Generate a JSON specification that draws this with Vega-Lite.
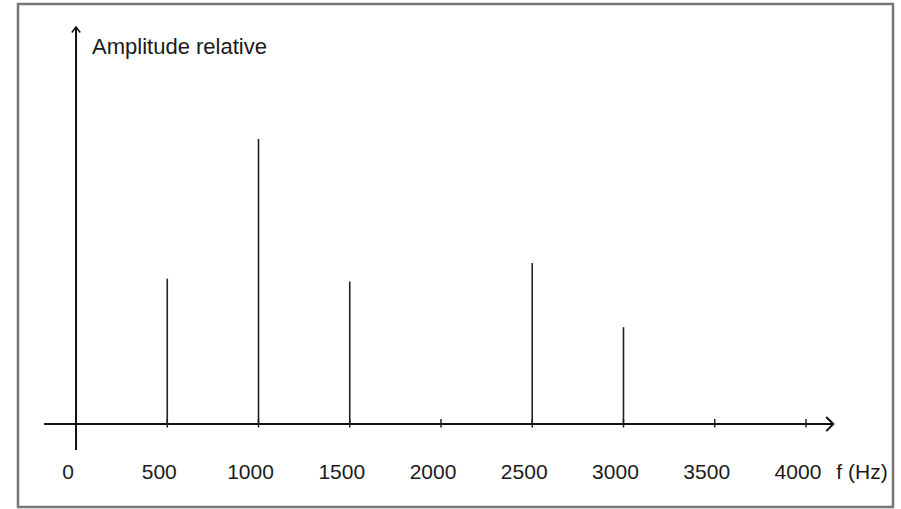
{
  "$schema": "https://vega.github.io/schema/vega-lite/v6.json",
  "width": 901,
  "height": 509,
  "autosize": {"type": "fit", "contains": "padding"},
  "padding": {"left": 18, "top": 4, "right": 8, "bottom": 2},
  "background": "white",
  "config": {"view": {"stroke": "#767676", "strokeWidth": 2.5}},
  "datasets": {
    "spikes": [
      {"f": 500, "amplitude": 0.51},
      {"f": 1000, "amplitude": 1.0},
      {"f": 1500, "amplitude": 0.5},
      {"f": 2500, "amplitude": 0.565},
      {"f": 3000, "amplitude": 0.34}
    ],
    "ticks": [
      {"f": 0, "label": "0"},
      {"f": 500, "label": "500"},
      {"f": 1000, "label": "1000"},
      {"f": 1500, "label": "1500"},
      {"f": 2000, "label": "2000"},
      {"f": 2500, "label": "2500"},
      {"f": 3000, "label": "3000"},
      {"f": 3500, "label": "3500"},
      {"f": 4000, "label": "4000"}
    ]
  },
  "layer": [
    {
      "data": {"values": [{}]},
      "mark": {"type": "rule", "color": "#111", "strokeWidth": 2},
      "encoding": {
        "x": {"datum": -175, "type": "quantitative", "scale": {"domain": [-318, 4477], "nice": false, "zero": false}, "axis": null},
        "x2": {"datum": 4150},
        "y": {"datum": 0, "type": "quantitative", "scale": {"domain": [-0.291, 1.4737], "nice": false, "zero": false}, "axis": null}
      }
    },
    {
      "data": {"values": [{}]},
      "mark": {"type": "rule", "color": "#111", "strokeWidth": 2},
      "encoding": {
        "x": {"datum": 0, "type": "quantitative", "scale": {"domain": [-318, 4477], "nice": false, "zero": false}, "axis": null},
        "y": {"datum": -0.091, "type": "quantitative", "scale": {"domain": [-0.291, 1.4737], "nice": false, "zero": false}, "axis": null},
        "y2": {"datum": 1.39}
      }
    },
    {
      "data": {"values": [{}]},
      "mark": {"type": "point", "shape": "M-1,-1L0,0L-1,1", "filled": false, "stroke": "#111", "strokeWidth": 2, "size": 200, "opacity": 1},
      "encoding": {
        "x": {"datum": 4150, "type": "quantitative", "scale": {"domain": [-318, 4477], "nice": false, "zero": false}, "axis": null},
        "y": {"datum": 0, "type": "quantitative", "scale": {"domain": [-0.291, 1.4737], "nice": false, "zero": false}, "axis": null}
      }
    },
    {
      "data": {"values": [{}]},
      "mark": {"type": "point", "shape": "M-1,1.3L0,0L1,1.3", "filled": false, "stroke": "#111", "strokeWidth": 1.6, "size": 70, "opacity": 1},
      "encoding": {
        "x": {"datum": 0, "type": "quantitative", "scale": {"domain": [-318, 4477], "nice": false, "zero": false}, "axis": null},
        "y": {"datum": 1.393, "type": "quantitative", "scale": {"domain": [-0.291, 1.4737], "nice": false, "zero": false}, "axis": null}
      }
    },
    {
      "data": {"name": "spikes"},
      "mark": {"type": "rule", "color": "#222", "strokeWidth": 1.6},
      "encoding": {
        "x": {"field": "f", "type": "quantitative", "scale": {"domain": [-318, 4477], "nice": false, "zero": false}, "axis": null},
        "y": {"field": "amplitude", "type": "quantitative", "scale": {"domain": [-0.291, 1.4737], "nice": false, "zero": false}, "axis": null},
        "y2": {"datum": 0}
      }
    },
    {
      "data": {"name": "ticks"},
      "transform": [{"filter": "datum.f > 0"}],
      "mark": {"type": "rule", "color": "#222", "strokeWidth": 1.5},
      "encoding": {
        "x": {"field": "f", "type": "quantitative", "scale": {"domain": [-318, 4477], "nice": false, "zero": false}, "axis": null},
        "y": {"datum": -0.012, "type": "quantitative", "scale": {"domain": [-0.291, 1.4737], "nice": false, "zero": false}, "axis": null},
        "y2": {"datum": 0.018}
      }
    },
    {
      "data": {"name": "ticks"},
      "mark": {"type": "text", "font": "Liberation Sans, Arial", "fontSize": 21, "color": "#1a1a1a", "align": "center", "baseline": "middle", "dx": -8},
      "encoding": {
        "x": {"field": "f", "type": "quantitative", "scale": {"domain": [-318, 4477], "nice": false, "zero": false}, "axis": null},
        "y": {"datum": -0.172, "type": "quantitative", "scale": {"domain": [-0.291, 1.4737], "nice": false, "zero": false}, "axis": null},
        "text": {"field": "label"}
      }
    },
    {
      "data": {"values": [{"f": 4307, "label": "f (Hz)"}]},
      "mark": {"type": "text", "font": "Liberation Sans, Arial", "fontSize": 21, "color": "#1a1a1a", "align": "center", "baseline": "middle"},
      "encoding": {
        "x": {"field": "f", "type": "quantitative", "scale": {"domain": [-318, 4477], "nice": false, "zero": false}, "axis": null},
        "y": {"datum": -0.172, "type": "quantitative", "scale": {"domain": [-0.291, 1.4737], "nice": false, "zero": false}, "axis": null},
        "text": {"field": "label"}
      }
    },
    {
      "data": {"values": [{"f": 88, "label": "Amplitude relative"}]},
      "mark": {"type": "text", "font": "Liberation Sans, Arial", "fontSize": 22, "color": "#1a1a1a", "align": "left", "baseline": "middle"},
      "encoding": {
        "x": {"field": "f", "type": "quantitative", "scale": {"domain": [-318, 4477], "nice": false, "zero": false}, "axis": null},
        "y": {"datum": 1.323, "type": "quantitative", "scale": {"domain": [-0.291, 1.4737], "nice": false, "zero": false}, "axis": null},
        "text": {"field": "label"}
      }
    }
  ]
}
